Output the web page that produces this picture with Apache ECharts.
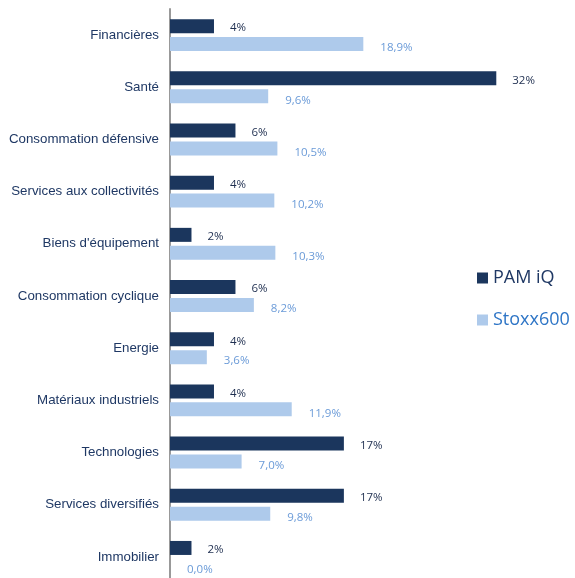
<!DOCTYPE html>
<html>
<head>
<meta charset="utf-8">
<script src="https://cdn.jsdelivr.net/npm/echarts@6/dist/echarts.min.js"></script>
<style>
  html, body { margin: 0; padding: 0; background: #fff; }
  #main { width: 575px; height: 578px; }
</style>
</head>
<body>
<div id="main"></div>
<script>
// secteurs, de haut en bas
var categories = ['Financières', 'Santé', 'Consommation défensive', 'Services aux collectivités',
  "Biens d'équipement", 'Consommation cyclique', 'Energie', 'Matériaux industriels',
  'Technologies', 'Services diversifiés', 'Immobilier'];
var pamValues = [4.3, 31.9, 6.4, 4.3, 2.1, 6.4, 4.3, 4.3, 17.0, 17.0, 2.1];
var stoxxValues = [18.9, 9.6, 10.5, 10.2, 10.3, 8.2, 3.6, 11.9, 7.0, 9.8, 0.0];
var seriesNames = ['PAM iQ', 'Stoxx600'];

var navy = '#1b365d';
var light = '#aecaeb';

var option = {
  animation: false,
  // la derniere ligne deborde un peu en bas, comme sur l'original
  grid: { left: 170, width: 358, top: 9, height: 574, containLabel: false, outerBoundsMode: 'none' },
  legend: {
    orient: 'vertical',
    left: 477,
    top: 269,
    padding: 0,
    itemWidth: 11,
    itemHeight: 11,
    itemGap: 24,
    icon: 'rect',
    textStyle: { fontFamily: 'Open Sans', fontSize: 18 },
    data: [
      { name: seriesNames[0], textStyle: { color: '#1f3864' } },
      { name: seriesNames[1], textStyle: { color: '#2e75c6' } }
    ]
  },
  xAxis: { type: 'value', min: 0, max: 35, show: false, splitLine: { show: false } },
  yAxis: {
    type: 'category',
    inverse: true,
    data: categories,
    axisLine: { lineStyle: { color: '#999', width: 2 } },
    axisTick: { show: false },
    axisLabel: { color: '#1f3864', fontFamily: 'Liberation Sans', fontSize: 13.3, margin: 11 }
  },
  series: [
    {
      name: seriesNames[0],
      type: 'bar',
      data: pamValues,
      barWidth: 14,
      barGap: '28%',
      itemStyle: { color: navy },
      label: {
        show: true, position: 'right', distance: 16, offset: [0, 2],
        color: '#1f2f50', fontFamily: 'Open Sans', fontSize: 11.5,
        formatter: function (p) { return Math.round(p.value) + '%'; }
      }
    },
    {
      name: seriesNames[1],
      type: 'bar',
      data: stoxxValues,
      barWidth: 14,
      itemStyle: { color: light },
      label: {
        show: true, position: 'right', distance: 17, offset: [0, 4],
        color: '#6b9bd8', fontFamily: 'Open Sans', fontSize: 11.5,
        formatter: function (p) { return p.value.toFixed(1).replace('.', ',') + '%'; }
      }
    }
  ]
};

echarts.init(document.getElementById('main')).setOption(option);
</script>
</body>
</html>
